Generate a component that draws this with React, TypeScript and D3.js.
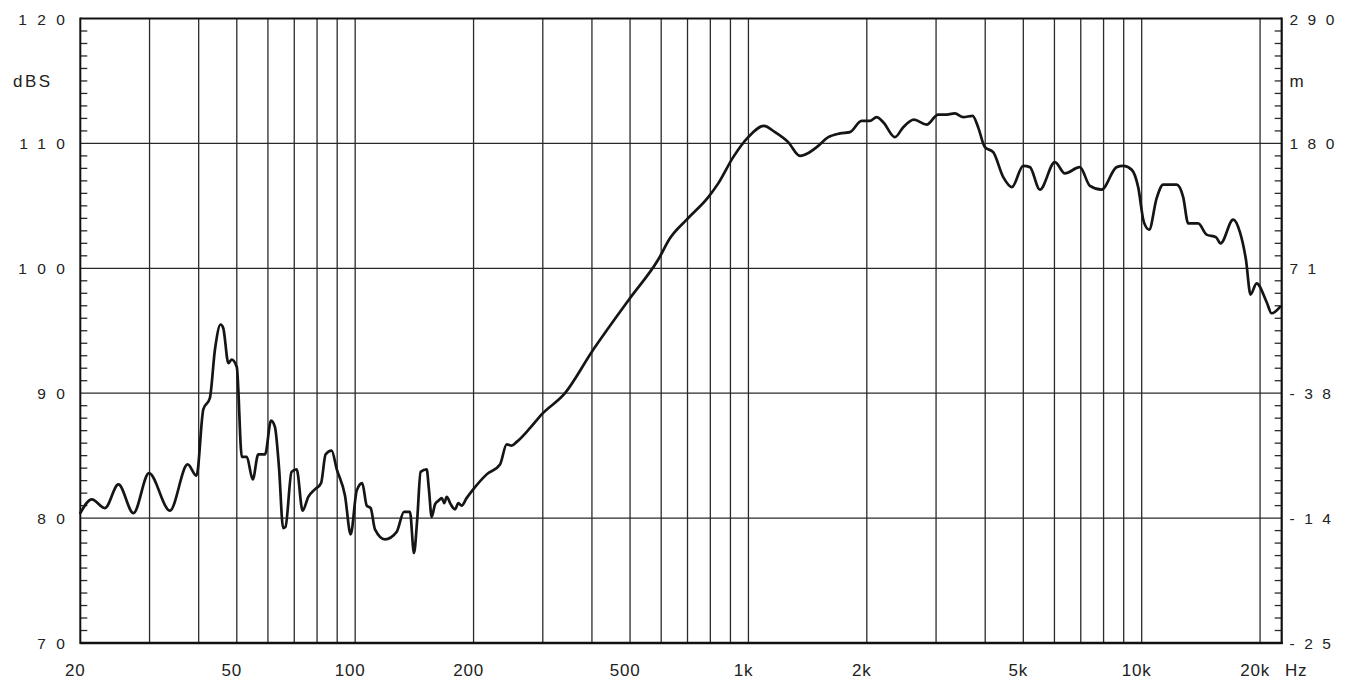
import React from "react";
import * as d3 from "d3";

const freqs: number[] = [
  20, 21.4, 23.1, 25.0, 27.3, 29.9, 33.8, 37.5, 39.5, 41.1, 42.7, 44.0, 45.5, 46.2, 47.6, 48.5, 50.0,
  51.5, 53.0, 54.9, 56.7, 59.0, 61.1, 62.5, 64.0, 65.6, 66.5, 68.9, 71.0, 73.5, 76.0, 79.0, 81.9,
  84.1, 87.1, 89.8, 94.2, 97.4, 100.9, 104.2, 107.0, 109.5, 112.3, 119.1, 127.5, 133.1, 137.8,
  141.1, 143.8, 146.7, 152.0, 154.0, 156.5, 159.6, 163, 166.0, 168.5, 170.9, 175, 179.4, 183, 186.5, 192, 199.6,
  216, 233.5, 242.8, 250, 257.5, 278.2, 298, 341.6, 399.5, 499.6, 589.8, 631.5, 696.6, 790.6, 838,
  914.8, 998.8, 1095, 1168, 1262, 1352, 1392, 1491, 1596, 1709, 1812, 1940, 2036, 2118, 2202,
  2358, 2476, 2636, 2838, 3038, 3160, 3350, 3518, 3716, 3838, 3992, 4192, 4446, 4678, 4996,
  5196, 5510, 6016, 6378, 6962, 7386, 7908, 8634, 8974, 9426, 9796, 10128, 10448, 10912, 11342,
  12266, 12750, 13130, 13920, 14622, 15440, 15872, 17088, 17774, 18410, 18918, 19594, 20780,
  21400, 22460,
];

const spl: number[] = [
  80.4, 81.5, 80.8, 82.7, 80.4, 83.6, 80.6, 84.3, 83.4, 88.7, 89.6, 93.5, 95.5, 95.2, 92.4, 92.7, 92.1,
  84.9, 84.9, 83.1, 85.1, 85.1, 87.8, 87.3, 84.1, 79.2, 79.3, 83.7, 83.9, 80.6, 81.7, 82.3, 82.8,
  85.1, 85.4, 83.9, 81.8, 78.7, 82.2, 82.8, 81.0, 80.8, 79.1, 78.3, 78.9, 80.5, 80.5,
  77.2, 79.9, 83.7, 83.9, 82.3, 80.1, 81.1, 81.4, 81.6, 81.2, 81.7, 81.1, 80.7, 81.2, 81.0, 81.6, 82.3,
  83.5, 84.3, 85.9, 85.8, 86.1, 87.2, 88.3, 90.0, 93.3, 97.6, 100.7, 102.4, 103.9, 105.7, 106.8,
  108.9, 110.5, 111.4, 110.9, 110.1, 109.0, 109.1, 109.7, 110.5, 110.8, 110.9, 111.8, 111.8, 112.1, 111.7,
  110.5, 111.3, 111.9, 111.5, 112.3, 112.3, 112.4, 112.1, 112.2, 111.3, 109.7, 109.3, 107.3, 106.5, 108.2,
  108.1, 106.3, 108.5, 107.6, 108.1, 106.6, 106.3, 108.1, 108.2, 107.9, 106.5, 103.7, 103.1, 105.6, 106.7,
  106.7, 105.7, 103.6, 103.6, 102.7, 102.5, 102.0, 103.9, 102.9, 100.7, 97.9, 98.8, 97.3,
  96.4, 96.9,
];

const gridFreqs: number[] = [
  30, 40, 50, 60, 70, 80, 90, 100, 200, 300, 400, 500, 600, 700, 800, 900, 1000, 2000, 3000, 4000,
  5000, 6000, 7000, 8000, 9000, 10000, 20000,
];
const xTickValues: number[] = [20, 50, 100, 200, 500, 1000, 2000, 5000, 10000, 20000];
const xTickLabels: string[] = ["20", "50", "100", "200", "500", "1k", "2k", "5k", "10k", "20k"];
const yMajor: number[] = [120, 110, 100, 90, 80, 70];
const yLeftLabels: string[] = ["120", "110", "100", "90", "80", "70"];
const yRightLabels: string[] = ["290", "180", "71", "-38", "-14", "-25"];
const yGrid: number[] = [110, 100, 90, 80];

const W = 1352;
const H = 690;
const left = 80.3;
const right = 1281.7;
const top = 18.5;
const bottom = 643;

export default function App() {
  const x = d3.scaleLog().domain([20, 22700]).range([left, right]);
  const y = d3.scaleLinear().domain([70, 120]).range([bottom, top]);
  const pts: [number, number][] = freqs.map((f, i) => [f, spl[i]]);
  const line = d3
    .line<[number, number]>()
    .x((d) => x(d[0]))
    .y((d) => y(d[1]))
    .curve(d3.curveMonotoneX);
  const minor = d3.range(70, 121, 1).filter((v) => v % 10 !== 0);
  const font = "'Liberation Sans', Arial, Helvetica, sans-serif";
  const L = 10.5;
  const gridColor = "#2a2a2a";

  return (
    <svg
      width={W}
      height={H}
      style={{ position: "fixed", left: 0, top: 0, background: "#fff" }}
      fontFamily={font}
    >
      <rect x={0} y={0} width={W} height={H} fill="#fff" />
      {gridFreqs.map((f) => (
        <line key={"vg" + f} x1={x(f)} x2={x(f)} y1={top} y2={bottom} stroke={gridColor} strokeWidth={1.3} />
      ))}
      {yGrid.map((v) => (
        <line key={"hg" + v} x1={left} x2={right} y1={y(v)} y2={y(v)} stroke={gridColor} strokeWidth={1.3} />
      ))}
      {minor.map((v) => (
        <g key={"mt" + v}>
          <line x1={left} x2={left + 7} y1={y(v)} y2={y(v)} stroke={gridColor} strokeWidth={1.3} />
          <line x1={right - 7} x2={right} y1={y(v)} y2={y(v)} stroke={gridColor} strokeWidth={1.3} />
        </g>
      ))}
      <line x1={left} x2={right} y1={top} y2={top} stroke="#111" strokeWidth={2} />
      <line x1={left} x2={right + 1} y1={bottom} y2={bottom} stroke="#111" strokeWidth={2.5} />
      <line x1={left} x2={left} y1={top - 1} y2={bottom + 1} stroke="#111" strokeWidth={2} />
      <line x1={right} x2={right} y1={top - 1} y2={bottom + 1} stroke="#111" strokeWidth={2.2} />

      <path d={line(pts) || ""} fill="none" stroke="#151515" strokeWidth={2.7} strokeLinejoin="round" strokeLinecap="round" />

      {yMajor.map((v, i) => (
        <text
          key={"yl" + v}
          x={65 + L}
          y={y(v) + 6}
          textAnchor="end"
          fontSize={15.5}
          letterSpacing={L}
          fill="#222"
        >
          {yLeftLabels[i]}
        </text>
      ))}
      {yMajor.map((v, i) => (
        <text key={"yr" + v} x={1289.5} y={y(v) + 6} textAnchor="start" fontSize={15.5} letterSpacing={L - 1} fill="#222">
          {yRightLabels[i]}
        </text>
      ))}
      <text x={13} y={87} fontSize={17} letterSpacing={2.5} fill="#222">
        dBS
      </text>
      <text x={1289.5} y={87} fontSize={17} fill="#222">
        m
      </text>
      {xTickValues.map((f, i) => (
        <text key={"xl" + f} x={x(f) - 5} y={676} textAnchor="middle" fontSize={17} letterSpacing={0.8} fill="#222">
          {xTickLabels[i]}
        </text>
      ))}
      <text x={1285} y={676} fontSize={17} letterSpacing={0.8} fill="#222">
        Hz
      </text>
    </svg>
  );
}
